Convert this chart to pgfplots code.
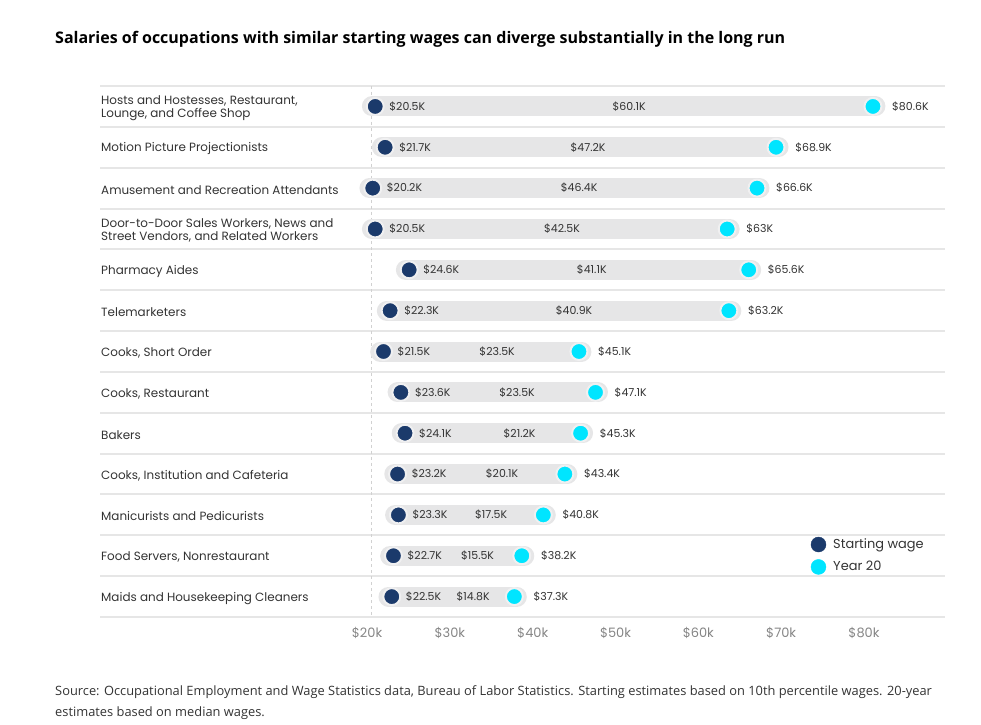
\documentclass[border=0pt]{standalone}
\usepackage{fontspec}
\setmainfont{Poppins}
\newfontfamily\titlefont{Open Sans}
\usepackage{graphicx}
\usepackage{pgfplots}
\pgfplotsset{compat=1.18}
\usepackage{pgfplotstable}

\definecolor{navyC}{HTML}{1B3A6B}
\definecolor{cyanC}{HTML}{00E5FF}
\definecolor{barC}{HTML}{E6E6E7}
\definecolor{haloC}{HTML}{F0F0F1}
\definecolor{sepC}{HTML}{E6E6E6}
\definecolor{txtC}{HTML}{333333}
\definecolor{tickC}{HTML}{858585}

% row, starting wage (k$), year 20 (k$), difference (k$), position of difference label
\pgfplotstableread{
row s e d m
0 20.5 80.6 60.1 51.16
1 21.7 68.9 47.2 46.20
2 20.2 66.6 46.4 45.12
3 20.5 63 42.5 43.06
4 24.6 65.6 41.1 46.65
5 22.3 63.2 40.9 44.51
6 21.5 45.1 23.5 35.22
7 23.6 47.1 23.5 37.63
8 24.1 45.3 21.2 37.93
9 23.2 43.4 20.1 35.82
10 23.3 40.8 17.5 34.49
11 22.7 38.2 15.5 32.86
12 22.5 37.3 14.8 32.32
}\data

\begin{document}
\begin{tikzpicture}
\path[use as bounding box] (0bp,0bp) rectangle (981bp,-725bp);
\node[anchor=base west, inner sep=0pt] at (55bp,-43bp) {\resizebox{730bp}{!}{\titlefont\bfseries Salaries of occupations with similar starting wages can diverge substantially in the long run}};
\node[anchor=base west, inner sep=0pt, text=txtC, font=\titlefont\fontsize{12.9}{15}\selectfont] at (55bp,-695bp) {Source: Occupational Employment and Wage Statistics data, Bureau of Labor Statistics. Starting estimates based on 10th percentile wages. 20-year};
\node[anchor=base west, inner sep=0pt, text=txtC, font=\titlefont\fontsize{12.9}{15}\selectfont] at (55bp,-716bp) {estimates based on median wages.};
\begin{axis}[
  at={(100bp,-86bp)}, anchor=north west,
  scale only axis, width=845bp, height=531bp,
  xmin=-12.73, xmax=89.3, ymin=-0.5, ymax=12.5,
  y dir=reverse, clip=false,
  /pgf/number format/assume math mode=true,
  axis line style={draw=none},
  major tick length=0pt, minor tick length=0pt,
  tick style={draw=none},
  xtick={20,30,40,50,60,70,80},
  xticklabels={\$20k,\$30k,\$40k,\$50k,\$60k,\$70k,\$80k},
  xticklabel style={anchor=center, yshift=-16bp, xshift=-4bp, text=tickC, font=\fontsize{13}{14}\selectfont},
  ytick={0,1,2,3,4,5,6,7,8,9,10,11,12},
  yticklabels={{Hosts and Hostesses, Restaurant,\\Lounge, and Coffee Shop},
    {Motion Picture Projectionists},
    {Amusement and Recreation Attendants},
    {Door-to-Door Sales Workers, News and\\Street Vendors, and Related Workers},
    {Pharmacy Aides},{Telemarketers},{Cooks, Short Order},{Cooks, Restaurant},{Bakers},
    {Cooks, Institution and Cafeteria},{Manicurists and Pedicurists},
    {Food Servers, Nonrestaurant},{Maids and Housekeeping Cleaners}},
  yticklabel style={anchor=west, align=left, inner sep=0pt, xshift=1bp, yshift=-1.5bp, text=txtC, font=\fontsize{12}{13.5}\selectfont},
  minor ytick={-0.5,0.5,...,12.5},
  yminorgrids, minor grid style={sepC, line width=2bp},
  legend style={at={(axis cs:73.07,11.0)}, anchor=west, draw=none, fill=none, inner sep=0pt,
    row sep=7bp, column sep=7bp, text=txtC, font=\fontsize{13}{14}\selectfont,
    nodes={inner sep=0pt, anchor=west}},
  legend cell align=left,
  legend image code/.code={\fill[#1] (7.5bp,0bp) circle (7.5bp);},
]
\addplot[forget plot, color=sepC!80!gray, dashed, line width=1bp] coordinates {(20,-0.5) (20,12.5)};
\addplot[forget plot, only marks, mark=none,
  error bars/.cd, x dir=plus, x explicit, error mark=none,
  error bar style={barC, line width=20bp, line cap=round}]
  table[x expr=\thisrow{s}-0.4, y=row, x error expr=\thisrow{e}-\thisrow{s}+0.7]{\data};
\addplot[only marks, mark=*, mark size=8.5bp, color=navyC, mark options={draw=haloC, line width=2bp, fill=navyC}]
  table[x=s, y=row]{\data};
\addlegendentry{Starting wage}
\addplot[only marks, mark=*, mark size=8.5bp, color=cyanC, mark options={draw=haloC, line width=2bp, fill=cyanC}]
  table[x=e, y=row]{\data};
\addlegendentry{Year 20}
\addplot[forget plot, only marks, mark=none, point meta=\thisrow{s},
  nodes near coords={\$\pgfmathprintnumber{\pgfplotspointmeta}K},
  nodes near coords style={anchor=west, inner sep=0pt, xshift=14bp, text=txtC, font=\fontsize{11}{12}\selectfont}]
  table[x=s, y=row]{\data};
\addplot[forget plot, only marks, mark=none, point meta=\thisrow{e},
  nodes near coords={\$\pgfmathprintnumber{\pgfplotspointmeta}K},
  nodes near coords style={anchor=west, inner sep=0pt, xshift=19bp, text=txtC, font=\fontsize{11}{12}\selectfont}]
  table[x=e, y=row]{\data};
\addplot[forget plot, only marks, mark=none, point meta=\thisrow{d},
  nodes near coords={\$\pgfmathprintnumber{\pgfplotspointmeta}K},
  nodes near coords style={anchor=center, inner sep=0pt, text=txtC, font=\fontsize{11}{12}\selectfont}]
  table[x=m, y=row]{\data};
\end{axis}
\end{tikzpicture}
\end{document}
